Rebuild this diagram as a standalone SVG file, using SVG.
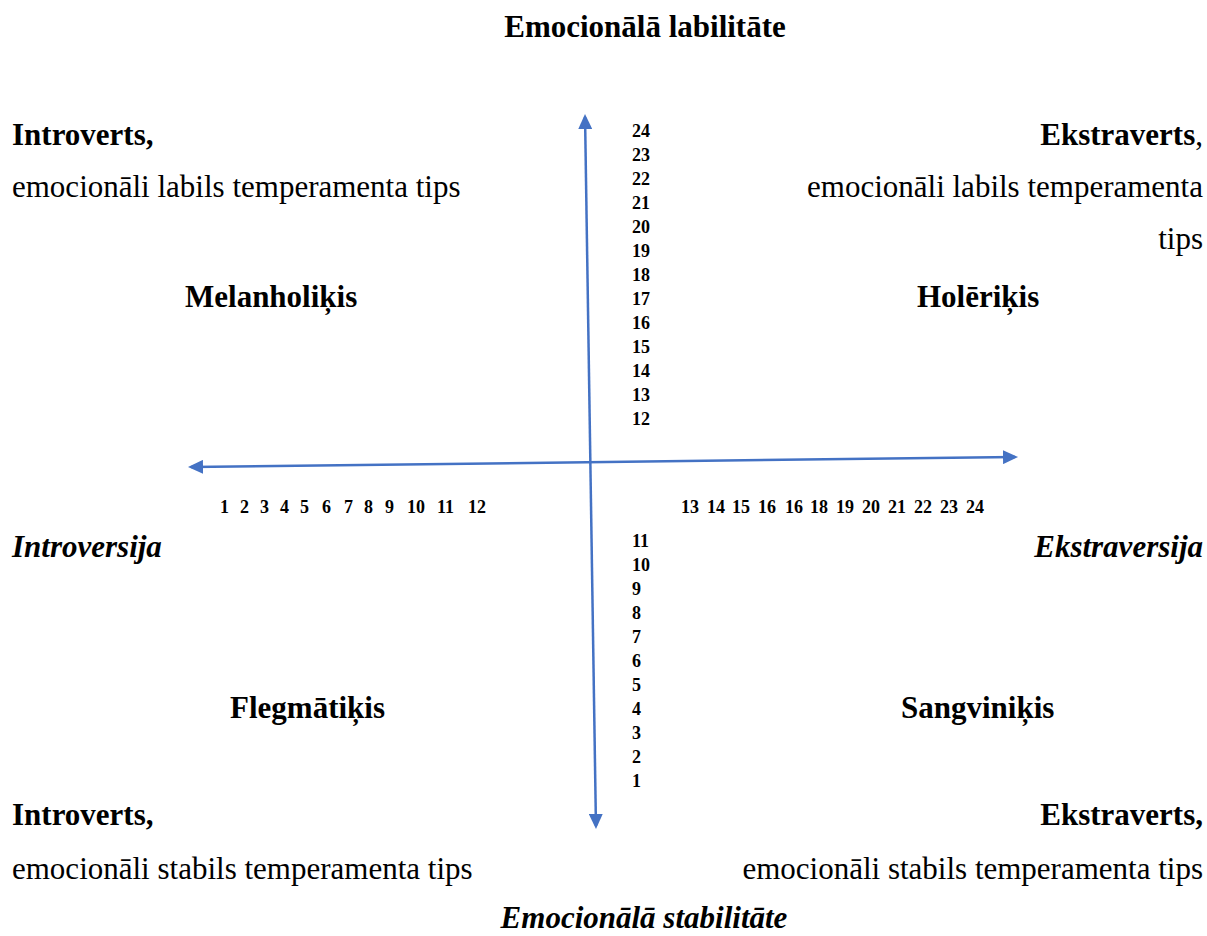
<svg xmlns="http://www.w3.org/2000/svg" width="1207" height="936" viewBox="0 0 1207 936">
<style>
text{font-family:"Liberation Serif","Times New Roman",serif;fill:#000}
.t{font-size:31px}
.b{font-weight:bold}
.i{font-style:italic}
.n{font-size:18px;font-weight:bold}
.e{text-anchor:end}
.m{text-anchor:middle}
.ax{stroke:#4472C4;stroke-width:2.5;fill:none}
</style>
<defs>
<marker id="ah" markerUnits="userSpaceOnUse" markerWidth="15" markerHeight="14" refX="12" refY="7" orient="auto-start-reverse">
<path d="M0,0 L15,7 L0,14 z" fill="#4472C4"/>
</marker>
</defs>
<rect width="1207" height="936" fill="#fff"/>
<g id="connectors">
<line class="ax" x1="585.05" y1="117" x2="595.95" y2="826" marker-start="url(#ah)" marker-end="url(#ah)"/>
<line class="ax" x1="191" y1="467" x2="1015" y2="457" marker-start="url(#ah)" marker-end="url(#ah)"/>
</g>
<g id="title-top"><text class="t b m" x="645" y="37">Emocionālā labilitāte</text></g>
<g id="title-bottom"><text class="t b i m" x="644" y="928">Emocionālā stabilitāte</text></g>
<g id="q-top-left">
<text class="t b" x="12" y="145">Introverts,</text>
<text class="t" x="12" y="197">emocionāli labils temperamenta tips</text>
</g>
<g id="q-top-right">
<text class="t e" x="1203" y="145"><tspan class="b">Ekstraverts</tspan>,</text>
<text class="t e" x="1203" y="197">emocionāli labils temperamenta</text>
<text class="t e" x="1203" y="249">tips</text>
</g>
<g id="melanholikis"><text class="t b" x="185" y="307">Melanholiķis</text></g>
<g id="holerikis"><text class="t b" x="917" y="307">Holēriķis</text></g>
<g id="introversija"><text class="t b i" x="12" y="557">Introversija</text></g>
<g id="ekstraversija"><text class="t b i e" x="1203" y="557">Ekstraversija</text></g>
<g id="flegmatikis"><text class="t b" x="230" y="718">Flegmātiķis</text></g>
<g id="sangvinikis"><text class="t b" x="901" y="718">Sangviniķis</text></g>
<g id="q-bottom-left">
<text class="t b" x="12" y="825">Introverts,</text>
<text class="t" x="12" y="879">emocionāli stabils temperamenta tips</text>
</g>
<g id="q-bottom-right">
<text class="t b e" x="1203" y="825">Ekstraverts,</text>
<text class="t e" x="1203" y="879">emocionāli stabils temperamenta tips</text>
</g>
<g id="scale-up">
<text class="n" x="632" y="137">24</text>
<text class="n" x="632" y="161">23</text>
<text class="n" x="632" y="185">22</text>
<text class="n" x="632" y="209">21</text>
<text class="n" x="632" y="233">20</text>
<text class="n" x="632" y="257">19</text>
<text class="n" x="632" y="281">18</text>
<text class="n" x="632" y="305">17</text>
<text class="n" x="632" y="329">16</text>
<text class="n" x="632" y="353">15</text>
<text class="n" x="632" y="377">14</text>
<text class="n" x="632" y="401">13</text>
<text class="n" x="632" y="425">12</text>
</g>
<g id="scale-down">
<text class="n" x="632" y="547">11</text>
<text class="n" x="632" y="571">10</text>
<text class="n" x="632" y="595">9</text>
<text class="n" x="632" y="619">8</text>
<text class="n" x="632" y="643">7</text>
<text class="n" x="632" y="667">6</text>
<text class="n" x="632" y="691">5</text>
<text class="n" x="632" y="715">4</text>
<text class="n" x="632" y="739">3</text>
<text class="n" x="632" y="763">2</text>
<text class="n" x="632" y="787">1</text>
</g>
<g id="scale-left">
<text class="n" x="220" y="513">1</text>
<text class="n" x="240" y="513">2</text>
<text class="n" x="260" y="513">3</text>
<text class="n" x="280" y="513">4</text>
<text class="n" x="300" y="513">5</text>
<text class="n" x="322" y="513">6</text>
<text class="n" x="344" y="513">7</text>
<text class="n" x="364" y="513">8</text>
<text class="n" x="385" y="513">9</text>
<text class="n" x="407" y="513">10</text>
<text class="n" x="437" y="513">11</text>
<text class="n" x="468" y="513">12</text>
</g>
<g id="scale-right">
<text class="n" x="681" y="513">13</text>
<text class="n" x="707" y="513">14</text>
<text class="n" x="732" y="513">15</text>
<text class="n" x="758" y="513">16</text>
<text class="n" x="785" y="513">16</text>
<text class="n" x="810" y="513">18</text>
<text class="n" x="836" y="513">19</text>
<text class="n" x="862" y="513">20</text>
<text class="n" x="888" y="513">21</text>
<text class="n" x="914" y="513">22</text>
<text class="n" x="940" y="513">23</text>
<text class="n" x="966" y="513">24</text>
</g>
</svg>
